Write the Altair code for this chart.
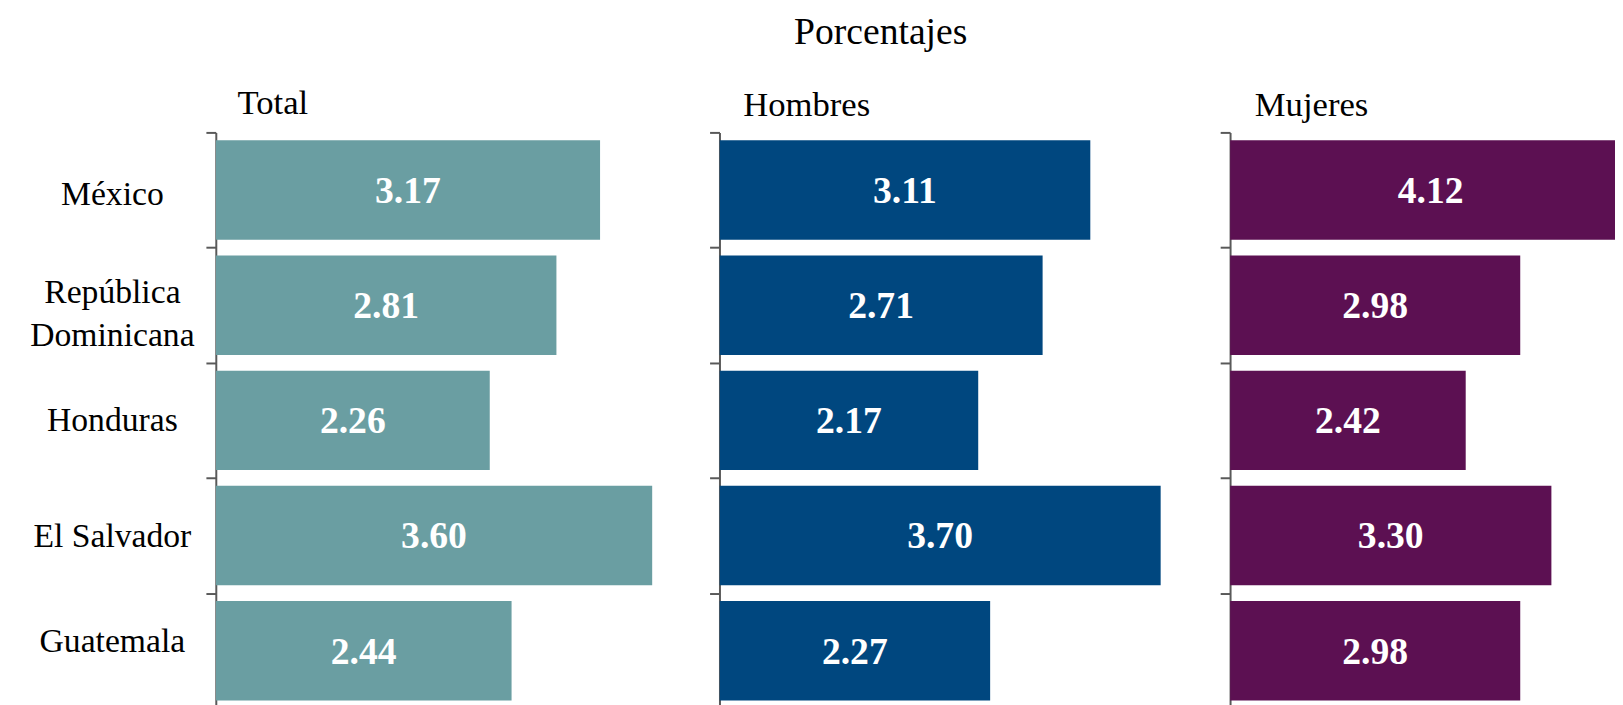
import altair as alt
import pandas as pd

countries = ["México", "República Dominicana", "Honduras", "El Salvador", "Guatemala"]
total = [3.17, 2.81, 2.26, 3.60, 2.44]
hombres = [3.11, 2.71, 2.17, 3.70, 2.27]
mujeres = [4.12, 2.98, 2.42, 3.30, 2.98]
panel_titles = ["Total", "Hombres", "Mujeres"]
colors = ["#6A9EA2", "#00477F", "#5C1052"]
main_title = "Porcentajes"

df = pd.DataFrame({"pais": countries, "Total": total, "Hombres": hombres, "Mujeres": mujeres})

FONT = "Liberation Serif"
AXIS_COLOR = "#595959"


def panel(field, color, width, xmax, show_labels, title_offset, title_dx):
    base = alt.Chart(df).transform_calculate(mid=f"datum['{field}'] / 2")
    yaxis = alt.Axis(
        tickBand="extent",
        domainColor=AXIS_COLOR, domainWidth=2,
        tickColor=AXIS_COLOR, tickWidth=2, tickSize=10,
        labels=show_labels, labelFont=FONT, labelFontSize=34, labelColor="black",
        labelAlign="center", labelBaseline="middle", labelPadding=95, labelLimit=0,
        labelLineHeight=44,
        labelOffset={"condition": [
            {"test": "datum.value === 'República Dominicana'", "value": -13},
            {"test": "datum.value === 'Guatemala'", "value": -9},
            {"test": "datum.value === 'México'", "value": 5},
            {"test": "datum.value === 'El Salvador'", "value": 1},
        ], "value": 0},
        labelExpr="datum.value == 'República Dominicana' ? ['República', 'Dominicana'] : datum.label",
        grid=False, title=None,
    )
    y = alt.Y("pais:N", sort=countries, title=None,
              scale=alt.Scale(paddingInner=0, paddingOuter=0), axis=yaxis)
    xscale = alt.Scale(domain=[0, xmax], nice=False, zero=True)
    bars = base.mark_bar(color=color, height=alt.RelativeBandSize(0.863), clip=True).encode(
        x=alt.X(f"{field}:Q", scale=xscale, axis=None),
        y=y,
    )
    text = base.mark_text(font=FONT, fontSize=38, fontWeight="bold", color="white",
                          baseline="middle", align="center", dy=2).encode(
        x=alt.X("mid:Q", scale=xscale, axis=None),
        y=alt.Y("pais:N", sort=countries),
        text=alt.Text(f"{field}:Q", format=".2f"),
    )
    return alt.layer(bars, text).properties(
        width=width, height=582,
        title=alt.TitleParams(text=field, anchor="start", frame="group", dx=title_dx,
                              offset=title_offset,
                              font=FONT, fontSize=35, fontWeight="normal", color="black",
                              baseline="alphabetic"),
    )


p1 = panel("Total", colors[0], 490, 4.0, True, -33, 22)
p2 = panel("Hombres", colors[1], 482, 4.0, False, -19, 24)
p3 = panel("Mujeres", colors[2], 389, 389 / 98.4, False, -19, 25)

chart = alt.hconcat(alt.hconcat(p1, p2, spacing=8), p3, spacing=23).properties(
    title=alt.TitleParams(text=main_title, anchor="middle", font=FONT, fontSize=38,
                          fontWeight="normal", color="black", offset=34, dx=59),
    padding={"left": 21, "top": 3, "right": 0, "bottom": 0},
    background="white",
).configure_view(stroke=None).resolve_scale(x="independent")

chart.save("out.html", embed_options={"renderer": "svg", "actions": False})
